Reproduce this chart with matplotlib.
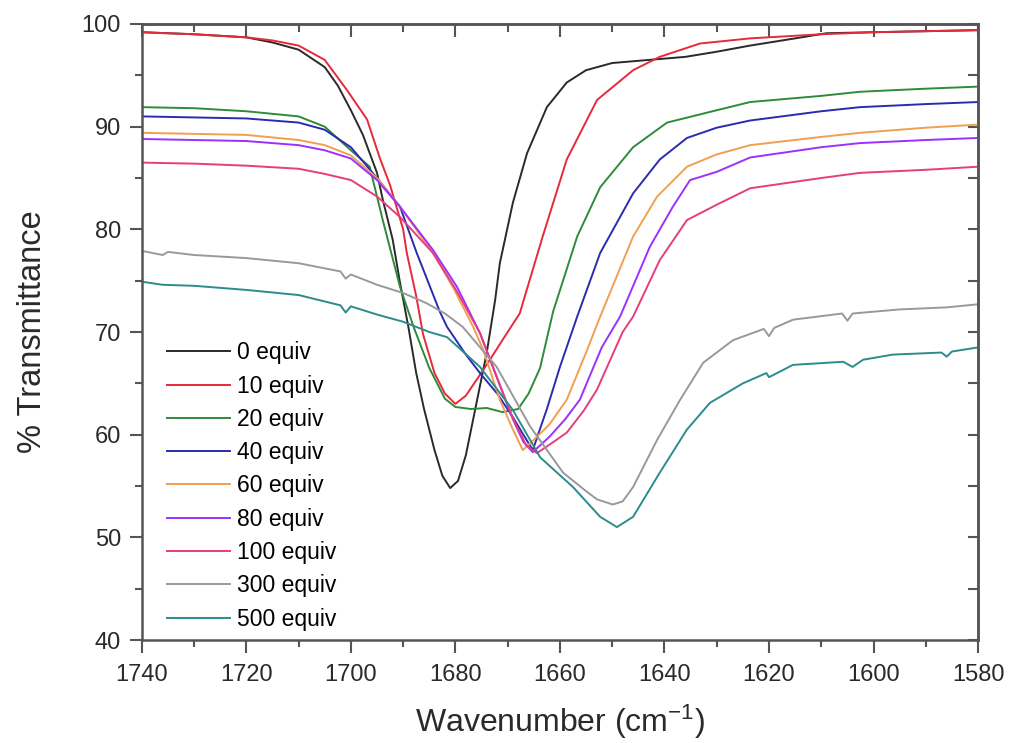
import matplotlib
matplotlib.use("Agg")
import matplotlib.pyplot as plt
from matplotlib.ticker import MultipleLocator

plt.rcParams['font.family'] = ['Liberation Sans', 'DejaVu Sans']
plt.rcParams['mathtext.default'] = 'regular'

# spectra (wavenumber in cm-1, % transmittance)
wn_0 = [1740, 1730, 1720, 1715, 1710, 1705, 1702.5, 1700, 1697.7, 1695, 1693.9, 1692, 1690.6, 1689, 1687.5,
        1686, 1684, 1682.5, 1681, 1679.5, 1678, 1676, 1674, 1672.4, 1671.5, 1669, 1666.3, 1662.5, 1658.7,
        1655, 1650, 1643, 1636, 1630, 1623.6, 1615, 1609, 1600, 1590, 1580]
t_0 = [99.2, 99.0, 98.7, 98.2, 97.5, 95.8, 94.0, 91.6, 89.2, 85.5, 82.9, 79.0, 74.8, 70.5, 66.0,
       62.5, 58.5, 56.0, 54.8, 55.5, 58.0, 63.0, 68.0, 73.1, 76.7, 82.6, 87.4, 91.9, 94.3,
       95.5, 96.2, 96.5, 96.8, 97.3, 97.9, 98.6, 99.1, 99.2, 99.3, 99.4]

wn_10 = [1740, 1730, 1720, 1715, 1710, 1705, 1700.8, 1696.9, 1694.5, 1692.5, 1690, 1689.3, 1687.5, 1686.2,
         1684, 1682, 1680, 1678, 1676, 1673.4, 1670, 1667.7, 1663.3, 1658.7, 1652.9, 1646, 1640.9, 1633.2,
         1623.6, 1610, 1600, 1590, 1580]
t_10 = [99.2, 99.0, 98.7, 98.4, 97.9, 96.5, 93.6, 90.7, 87.0, 84.3, 80.0, 77.7, 73.5, 69.8,
        66.0, 64.0, 63.0, 63.8, 65.3, 67.3, 70.0, 71.8, 79.3, 86.8, 92.6, 95.5, 96.8, 98.1,
        98.6, 99.0, 99.2, 99.3, 99.4]

wn_20 = [1740, 1730, 1720, 1710, 1705, 1700, 1696.4, 1693.9, 1690.6, 1688, 1685, 1682, 1680, 1677, 1674,
         1671, 1668, 1666, 1663.8, 1661.3, 1656.7, 1652.3, 1646, 1639.5, 1630, 1623.6, 1610, 1602.6,
         1590, 1580]
t_20 = [91.9, 91.8, 91.5, 91.0, 90.0, 87.7, 86.1, 80.9, 74.4, 70.5, 66.5, 63.5, 62.7, 62.5, 62.6,
        62.2, 62.5, 64.0, 66.5, 72.0, 79.3, 84.1, 88.0, 90.4, 91.6, 92.4, 93.0, 93.4,
        93.7, 93.9]

wn_40 = [1740, 1730, 1720, 1710, 1705, 1700, 1695, 1690.6, 1687.4, 1683, 1681.6, 1678, 1675.3, 1672,
         1669, 1667, 1665.2, 1662.5, 1660, 1656.7, 1652.3, 1646, 1640.9, 1635.7, 1630, 1623.6, 1610,
         1602.6, 1590, 1580]
t_40 = [91.0, 90.9, 90.8, 90.4, 89.7, 88.0, 85.0, 82.2, 77.7, 72.0, 70.5, 67.8, 66.0, 64.0,
        61.7, 60.0, 58.5, 62.5, 66.6, 71.5, 77.7, 83.5, 86.8, 88.9, 89.9, 90.6, 91.5,
        91.9, 92.2, 92.4]

wn_60 = [1740, 1730, 1720, 1710, 1705, 1700, 1695, 1690.6, 1684.3, 1680.5, 1676.6, 1674.7, 1671.5, 1669,
         1667.1, 1665, 1662, 1658.7, 1655, 1652.3, 1646, 1641.4, 1635.7, 1630, 1623.6, 1610, 1602.6,
         1590, 1580]
t_60 = [89.4, 89.3, 89.2, 88.7, 88.2, 87.2, 85.0, 82.2, 77.7, 74.4, 70.5, 68.3, 63.4, 60.5,
        58.5, 59.5, 61.0, 63.4, 68.0, 71.5, 79.3, 83.2, 86.1, 87.3, 88.2, 89.0, 89.4,
        89.9, 90.2]

wn_80 = [1740, 1730, 1720, 1710, 1705, 1700, 1695, 1690.6, 1684.3, 1679.7, 1675.3, 1672, 1669, 1667,
         1665.2, 1662, 1659, 1656.2, 1652, 1648.5, 1642.8, 1638.4, 1635.1, 1630, 1623.6, 1610, 1602.6,
         1590, 1580]
t_80 = [88.8, 88.7, 88.6, 88.2, 87.7, 86.9, 84.8, 82.2, 78.0, 74.4, 69.9, 65.5, 61.5, 59.3,
        58.3, 59.8, 61.5, 63.4, 68.5, 71.5, 78.3, 82.2, 84.8, 85.6, 87.0, 88.0, 88.4,
        88.7, 88.9]

wn_100 = [1740, 1730, 1720, 1710, 1705, 1700, 1695, 1690.6, 1684.3, 1680, 1675.3, 1672, 1669, 1666.5,
          1664.4, 1661.5, 1658.7, 1655.5, 1652.9, 1648, 1646, 1640.9, 1635.7, 1630, 1623.6, 1610,
          1602.6, 1590, 1580]
t_100 = [86.5, 86.4, 86.2, 85.9, 85.4, 84.8, 83.2, 81.2, 77.7, 74.2, 69.9, 65.5, 61.6, 59.0,
         58.2, 59.2, 60.2, 62.3, 64.4, 70.0, 71.5, 77.0, 80.9, 82.4, 84.0, 85.0,
         85.5, 85.8, 86.1]

wn_300 = [1740, 1736, 1735, 1730, 1720, 1710, 1702, 1701, 1700, 1695, 1690, 1685.5, 1682, 1678.6,
          1672.1, 1665.7, 1659.4, 1655, 1652.9, 1649.9, 1648, 1646, 1641.4, 1637, 1632.6, 1626.9,
          1621, 1620, 1619, 1615.4, 1606, 1605, 1604, 1595, 1586, 1580]
t_300 = [77.9, 77.5, 77.8, 77.5, 77.2, 76.7, 75.9, 75.2, 75.6, 74.6, 73.8, 72.8, 71.8, 70.5,
         66.6, 60.8, 56.3, 54.5, 53.7, 53.2, 53.5, 54.9, 59.5, 63.4, 67.0, 69.2,
         70.3, 69.6, 70.4, 71.2, 71.8, 71.1, 71.8, 72.2, 72.4, 72.7]

wn_500 = [1740, 1736, 1730, 1720, 1710, 1702, 1701, 1700, 1695, 1690, 1685, 1681.6, 1675.3, 1669,
          1663.8, 1657.5, 1652.3, 1649.1, 1646, 1640.9, 1635.7, 1631.3, 1625, 1620.5, 1620, 1615.4,
          1605.8, 1604, 1602, 1596.3, 1587, 1586, 1585, 1580]
t_500 = [74.9, 74.6, 74.5, 74.1, 73.6, 72.6, 71.9, 72.5, 71.7, 71.0, 70.0, 69.5, 66.6, 62.4,
         57.8, 54.9, 52.0, 51.0, 52.0, 56.3, 60.5, 63.1, 65.0, 66.0, 65.6, 66.8,
         67.1, 66.6, 67.3, 67.8, 68.0, 67.6, 68.1, 68.5]

labels = ['0 equiv', '10 equiv', '20 equiv', '40 equiv', '60 equiv',
          '80 equiv', '100 equiv', '300 equiv', '500 equiv']
colors = ['#2a2a2a', '#e8283c', '#2e8b3a', '#2b2bb0', '#f0a050',
          '#9b30ff', '#e83c80', '#999999', '#2e8b8b']
series = [(wn_0, t_0), (wn_10, t_10), (wn_20, t_20), (wn_40, t_40), (wn_60, t_60),
          (wn_80, t_80), (wn_100, t_100), (wn_300, t_300), (wn_500, t_500)]

fig = plt.figure(figsize=(10.13, 7.43), dpi=100)
ax = fig.add_axes([0.140, 0.1386, 0.8255, 0.8291])

for (w, t), lab, c in zip(series, labels, colors):
    ax.plot(w, t, color=c, lw=1.4, label=lab)

ax.set_xlim(1740, 1580)
ax.set_ylim(40, 100)
ax.xaxis.set_major_locator(MultipleLocator(20))
ax.xaxis.set_minor_locator(MultipleLocator(10))
ax.yaxis.set_major_locator(MultipleLocator(10))
ax.yaxis.set_minor_locator(MultipleLocator(5))

for s in ax.spines.values():
    s.set_color('#555555')
    s.set_linewidth(1.8)

ax.tick_params(which='both', direction='out', colors='#555555', width=1.5,
               labelcolor='#2a2a2a', labelsize=17)
ax.tick_params(axis='x', which='major', length=9, pad=8)
ax.tick_params(axis='x', which='minor', length=5)
ax.tick_params(axis='y', which='major', length=9, pad=6)
ax.tick_params(axis='y', which='minor', length=5)

# top and right axes carry inward ticks only
top = ax.secondary_xaxis('top')
top.xaxis.set_major_locator(MultipleLocator(20))
top.xaxis.set_minor_locator(MultipleLocator(10))
top.tick_params(which='both', direction='in', labeltop=False, colors='#555555', width=1.5)
top.tick_params(which='major', length=9)
top.tick_params(which='minor', length=6)
right = ax.secondary_yaxis('right')
right.yaxis.set_major_locator(MultipleLocator(5))
right.tick_params(which='both', direction='in', labelright=False, colors='#555555', width=1.5, length=7)
for sec in (top, right):
    for s in sec.spines.values():
        s.set_color('#555555')
        s.set_linewidth(1.8)

ax.set_xlabel('Wavenumber (cm$^{-1}$)', fontsize=23, color='#2a2a2a', labelpad=12)
ax.set_ylabel('% Transmittance', fontsize=23.5, color='#2a2a2a', labelpad=24)

ax.legend(loc='upper left', bbox_to_anchor=(0.03, 0.485), frameon=False, fontsize=16.5,
          handlelength=2.75, handletextpad=0.3, labelspacing=0.45, borderpad=0, borderaxespad=0)

plt.savefig('out.png', dpi=100)
